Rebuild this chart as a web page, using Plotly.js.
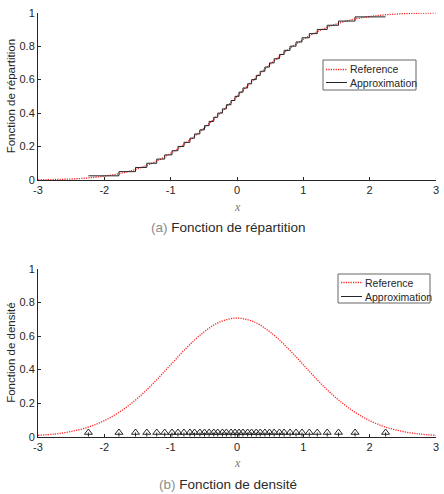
<!DOCTYPE html>
<html>
<head>
<meta charset="utf-8">
<script src="https://cdn.plot.ly/plotly-3.0.1.min.js"></script>
<style>
  html, body { margin: 0; padding: 0; background: #fff; }
  #chart { width: 444px; height: 494px; }
</style>
</head>
<body>
<div id="chart"></div>
<script>
// Reference curves read on a grid of x values
const gridX = [-3, -2.75, -2.5, -2.25, -2, -1.75, -1.5, -1.25, -1, -0.75, -0.5, -0.25, 0,
               0.25, 0.5, 0.75, 1, 1.25, 1.5, 1.75, 2, 2.25, 2.5, 2.75, 3];
const cdfRef = [0.001, 0.003, 0.006, 0.012, 0.023, 0.040, 0.067, 0.106, 0.159, 0.227, 0.309, 0.401, 0.5,
                0.599, 0.691, 0.773, 0.841, 0.894, 0.933, 0.960, 0.977, 0.988, 0.994, 0.997, 0.999];
const pdfRef = [0.008, 0.016, 0.031, 0.056, 0.096, 0.153, 0.229, 0.323, 0.429, 0.534, 0.624, 0.686, 0.707,
                0.686, 0.624, 0.534, 0.429, 0.323, 0.229, 0.153, 0.096, 0.056, 0.031, 0.016, 0.008];

// Sample points of the approximation (40 atoms)
const samples = [-2.24, -1.78, -1.53, -1.36, -1.21, -1.09, -0.98, -0.89, -0.80, -0.71,
                 -0.64, -0.56, -0.49, -0.42, -0.35, -0.29, -0.22, -0.16, -0.09, -0.03,
                  0.03, 0.09, 0.16, 0.22, 0.29, 0.35, 0.42, 0.49, 0.56, 0.64,
                  0.71, 0.80, 0.89, 0.98, 1.09, 1.21, 1.36, 1.53, 1.78, 2.24];
const weight = 0.025;   // weight of each atom

const xTicks = [-3, -2, -1, 0, 1, 2, 3];
const xTickText = ['-3', '-2', '-1', '0', '1', '2', '3'];
const yTicks = [0, 0.2, 0.4, 0.6, 0.8, 1];
const yTickText = ['0', '0.2', '0.4', '0.6', '0.8', '1'];
const legendNames = ['Reference', 'Approximation'];
const yTitles = ['Fonction de répartition', 'Fonction de densité'];

// Empirical CDF staircase: level k/n reached at the k-th sample, held up to the last one
const stepX = samples.slice();
const stepY = samples.map((_, i) => Math.min(i + 1, samples.length - 1) * weight);

// Stems of the atoms for the density panel
const stemX = [], stemY = [];
samples.forEach(s => { stemX.push(s, s, null); stemY.push(0, weight, null); });

const ink = '#262626';
const red = '#ff2020';
const refLine = { color: red, dash: '1.2px,1.2px', width: 1.3, shape: 'spline' };

const traces = [
  { x: gridX, y: cdfRef, type: 'scatter', mode: 'lines', name: legendNames[0],
    line: refLine, xaxis: 'x', yaxis: 'y' },
  { x: stepX, y: stepY, type: 'scatter', mode: 'lines', name: legendNames[1],
    line: { color: ink, width: 1, shape: 'hv' }, xaxis: 'x', yaxis: 'y' },
  { x: gridX, y: pdfRef, type: 'scatter', mode: 'lines', name: legendNames[0],
    line: refLine, xaxis: 'x2', yaxis: 'y2' },
  { x: stemX, y: stemY, type: 'scatter', mode: 'lines', name: legendNames[1],
    line: { color: ink, width: 1 }, xaxis: 'x2', yaxis: 'y2' },
  { x: samples, y: samples.map(() => weight), type: 'scatter', mode: 'markers',
    marker: { symbol: 'triangle-up-open', size: 7, color: ink, line: { width: 1, color: ink } },
    xaxis: 'x2', yaxis: 'y2' }
];

const font = 'Liberation Sans, Arial, Helvetica, sans-serif';
const W = 444, H = 494;
const px = v => v / W;
const py = v => 1 - v / H;

function xAxis(anchor) {
  return {
    domain: [px(38), px(436)], range: [-3, 3], anchor: anchor, automargin: false,
    tickmode: 'array', tickvals: xTicks, ticktext: xTickText,
    ticks: 'inside', ticklen: 3, tickcolor: ink, tickwidth: 1,
    showline: true, linecolor: ink, linewidth: 1, mirror: false,
    showgrid: false, zeroline: false,
    tickfont: { family: font, size: 11, color: ink }
  };
}
function yAxis(anchor, top, bottom) {
  return {
    domain: [py(bottom), py(top)], range: [0, 1], anchor: anchor, automargin: false,
    tickmode: 'array', tickvals: yTicks, ticktext: yTickText,
    ticks: 'inside', ticklen: 3, tickcolor: ink, tickwidth: 1,
    showline: true, linecolor: ink, linewidth: 1, mirror: false,
    showgrid: false, zeroline: false,
    tickfont: { family: font, size: 11, color: ink }
  };
}

// Boxed legend drawn as shapes + text
const shapes = [], annotations = [];
function addLegend(left, top, right, bottom, rows) {
  shapes.push({ type: 'rect', xref: 'paper', yref: 'paper',
    x0: px(left), x1: px(right), y0: py(bottom), y1: py(top),
    line: { color: '#666', width: 1 }, fillcolor: '#fff', layer: 'above' });
  const styles = [
    { color: red, width: 1.3, dash: '1.2px,1.2px' },
    { color: ink, width: 1, dash: 'solid' }
  ];
  rows.forEach((rowY, i) => {
    shapes.push({ type: 'line', xref: 'paper', yref: 'paper',
      x0: px(left + 3), x1: px(left + 24), y0: py(rowY), y1: py(rowY),
      line: styles[i], layer: 'above' });
    annotations.push({ text: legendNames[i], xref: 'paper', yref: 'paper',
      x: px(left + 25), y: py(rowY), xanchor: 'left', yanchor: 'middle', showarrow: false,
      font: { family: font, size: 10.5, color: ink } });
  });
}
addLegend(323, 60, 416, 90, [69.5, 82.5]);
addLegend(338, 274, 430, 303, [282.5, 296.5]);

// y-axis titles
[[yTitles[0], 96.3], [yTitles[1], 352.8]].forEach(t => annotations.push({
  text: t[0], xref: 'paper', yref: 'paper', x: px(11), y: py(t[1]), textangle: -90,
  showarrow: false, font: { family: font, size: 11.5, color: ink },
  xanchor: 'center', yanchor: 'middle' }));

// x-axis labels and captions
[207, 463].forEach(y => annotations.push({
  text: '<i>x</i>', xref: 'paper', yref: 'paper', x: px(237), y: py(y),
  showarrow: false, font: { family: 'Liberation Serif, serif', size: 12, color: '#777' },
  xanchor: 'center', yanchor: 'middle' }));
[['(a)', 'Fonction de répartition', 227], ['(b)', 'Fonction de densité', 484]].forEach(c =>
  annotations.push({
    text: '<span style="color:#8c8c8c">' + c[0] + '</span> ' + c[1],
    xref: 'paper', yref: 'paper', x: px(228), y: py(c[2]),
    showarrow: false, font: { family: font, size: 13.5, color: '#2a2a2a' },
    xanchor: 'center', yanchor: 'middle' }));

const layout = {
  width: W, height: H,
  margin: { l: 0, r: 0, t: 0, b: 0 },
  paper_bgcolor: '#ffffff', plot_bgcolor: '#ffffff',
  showlegend: false,
  xaxis: xAxis('y'),
  yaxis: yAxis('x', 12.7, 180),
  xaxis2: xAxis('y2'),
  yaxis2: yAxis('x2', 269, 436.7),
  shapes: shapes,
  annotations: annotations
};

Plotly.newPlot('chart', traces, layout, { staticPlot: true, displayModeBar: false });
</script>
</body>
</html>
